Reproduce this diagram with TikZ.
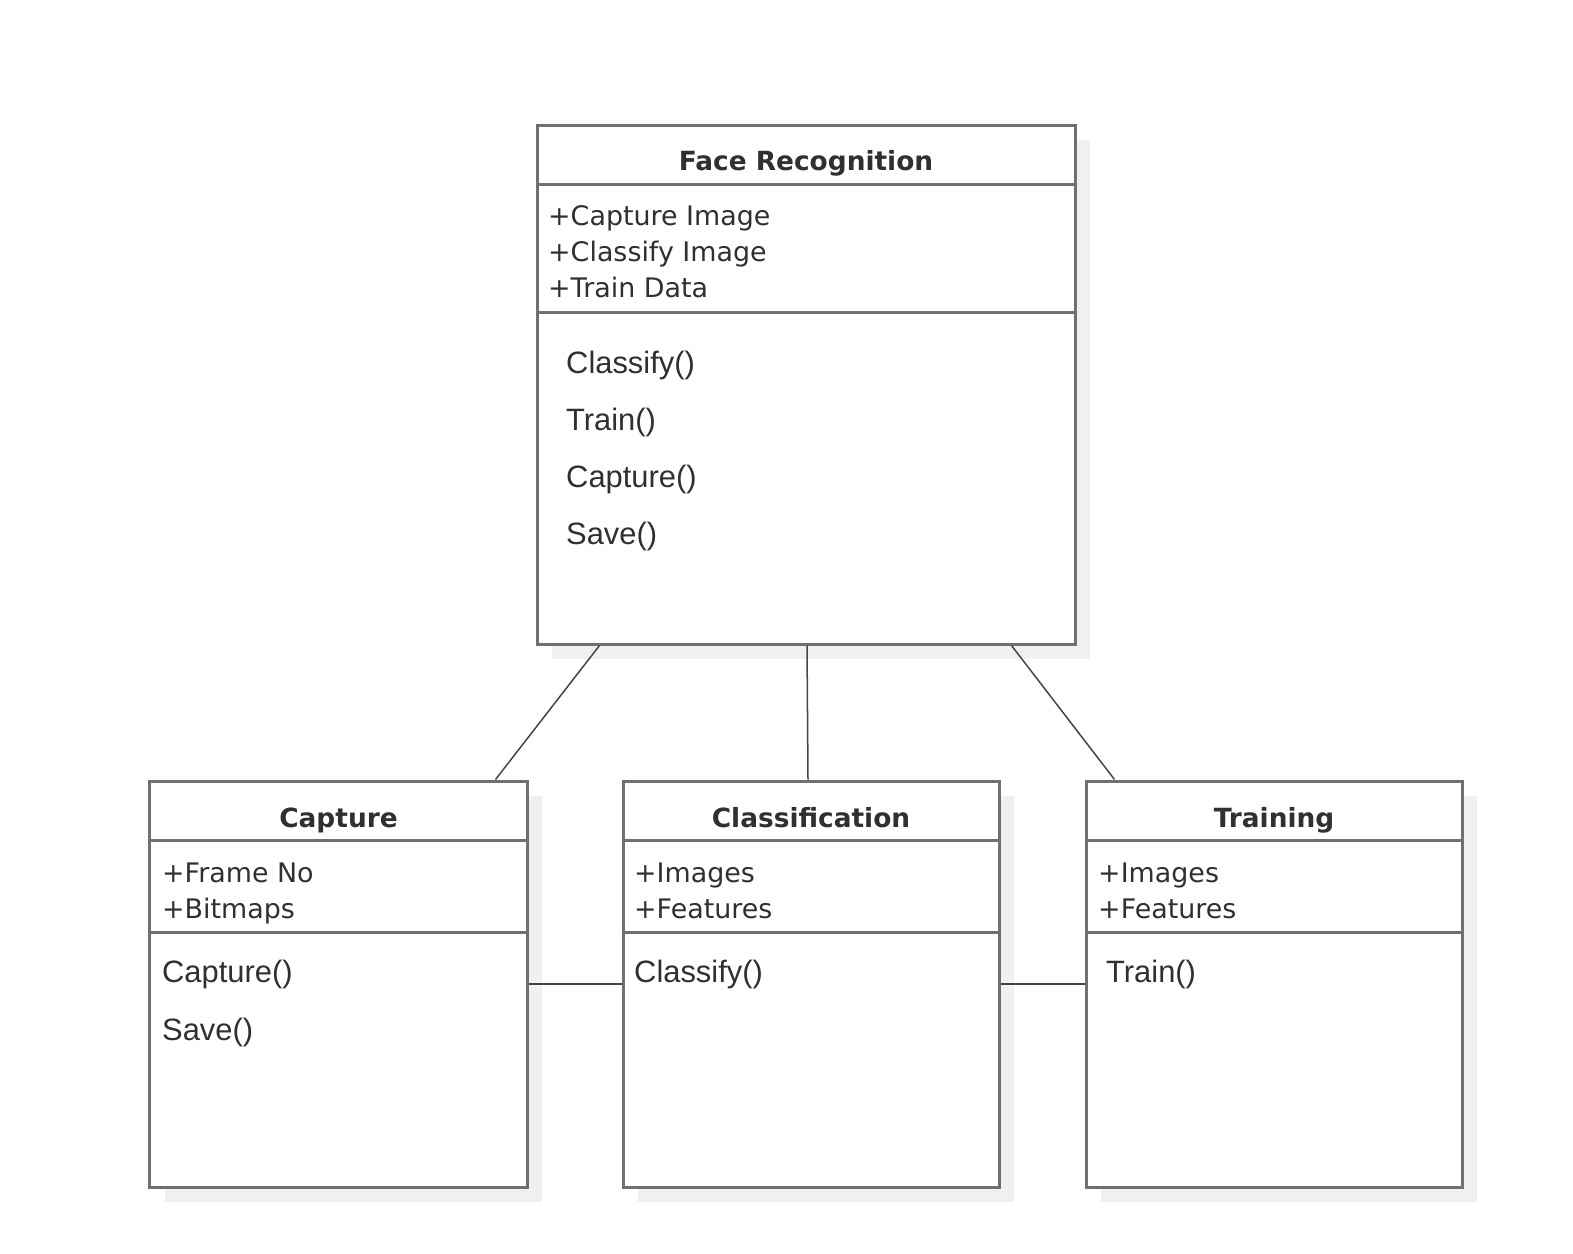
\documentclass[tikz,border=0pt]{standalone}
\usepackage{fontspec}
\setmainfont{DejaVu Sans}
\newfontfamily\methfont{Liberation Sans}
\usetikzlibrary{shadows}
\definecolor{boxgray}{HTML}{707070}
\definecolor{linegray}{HTML}{454545}
\definecolor{textgray}{HTML}{303030}
\definecolor{shadowgray}{HTML}{F0F0F0}
\tikzset{
  classbox/.style={rectangle, draw=boxgray, line width=3bp, fill=white, inner sep=0pt,
    drop shadow={shadow xshift=15bp, shadow yshift=-15bp, fill=shadowgray, opacity=1}},
  divider/.style={draw=boxgray, line width=3bp},
  classname/.style={font=\bfseries\fontsize{26.5}{30}\selectfont, text=textgray, anchor=base, inner sep=0pt},
  attr/.style={font=\fontsize{27}{32}\selectfont, text=textgray, anchor=base west, inner sep=0pt},
  meth/.style={font=\methfont\fontsize{31}{36}\selectfont, text=textgray, anchor=base west, inner sep=0pt},
  link/.style={draw=linegray, line width=1.5bp}
}
\begin{document}
\begin{tikzpicture}[x=1bp, y=-1bp]
		\useasboundingbox (0,0) rectangle (1573,1253);
		% Classes
		\node[classbox, minimum width=538bp, minimum height=519bp] (face) at (806,384.5) {};
		\node[classbox, minimum width=377bp, minimum height=406bp] (capture) at (338.5,984) {};
		\node[classbox, minimum width=376bp, minimum height=406bp] (classif) at (811,984) {};
		\node[classbox, minimum width=376bp, minimum height=406bp] (training) at (1274,984) {};
		% Compartments
		\draw[divider] ([yshift=-61bp]face.north west) -- ([yshift=-61bp]face.north east);
		\draw[divider] ([yshift=-189bp]face.north west) -- ([yshift=-189bp]face.north east);
		\draw[divider] ([yshift=-61bp]capture.north west) -- ([yshift=-61bp]capture.north east);
		\draw[divider] ([yshift=-153bp]capture.north west) -- ([yshift=-153bp]capture.north east);
		\draw[divider] ([yshift=-61bp]classif.north west) -- ([yshift=-61bp]classif.north east);
		\draw[divider] ([yshift=-153bp]classif.north west) -- ([yshift=-153bp]classif.north east);
		\draw[divider] ([yshift=-61bp]training.north west) -- ([yshift=-61bp]training.north east);
		\draw[divider] ([yshift=-153bp]training.north west) -- ([yshift=-153bp]training.north east);
		% Face Recognition
		\node[classname] (facename) at (806,170) {Face Recognition};
		\node[attr] (faceattra) at (548,225) {+Capture Image};
		\node[attr] (faceattrb) at (548,261) {+Classify Image};
		\node[attr] (faceattrc) at (548,297) {+Train Data};
		\node[meth] (facemetha) at (566,373) {Classify()};
		\node[meth] (facemethb) at (566,430) {Train()};
		\node[meth] (facemethc) at (566,487) {Capture()};
		\node[meth] (facemethd) at (566,544) {Save()};
		% Capture
		\node[classname] (capturename) at (338.5,827) {Capture};
		\node[attr] (captureattra) at (162,882) {+Frame No};
		\node[attr] (captureattrb) at (162,918) {+Bitmaps};
		\node[meth] (capturemetha) at (162,982) {Capture()};
		\node[meth] (capturemethb) at (162,1040) {Save()};
		% Classification
		\node[classname] (classifname) at (811,827) {Classification};
		\node[attr] (classifattra) at (634,882) {+Images};
		\node[attr] (classifattrb) at (634,918) {+Features};
		\node[meth] (classifmetha) at (634,982) {Classify()};
		% Training
		\node[classname] (trainingname) at (1274,827) {Training};
		\node[attr] (trainingattra) at (1098,882) {+Images};
		\node[attr] (trainingattrb) at (1098,918) {+Features};
		\node[meth] (trainingmetha) at (1106,982) {Train()};
		% Associations
		\draw[link] ([xshift=64bp]face.south west) -- ([xshift=347bp]capture.north west);
		\draw[link] ([xshift=1bp]face.south) -- ([xshift=-3bp]classif.north);
		\draw[link] ([xshift=-65bp]face.south east) -- ([xshift=30bp]training.north west);
		\draw[link] (capture.east) -- (classif.west);
		\draw[link] (classif.east) -- (training.west);
	\end{tikzpicture}
\end{document}
